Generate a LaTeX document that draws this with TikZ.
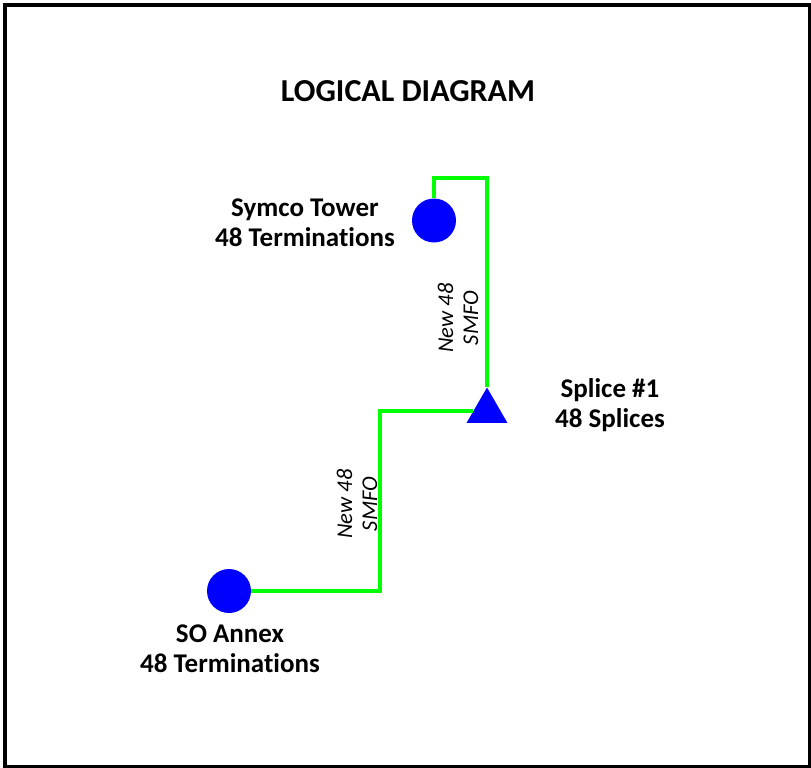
\documentclass[tikz,border=0pt]{standalone}
\usepackage{fontspec}
\setmainfont{Carlito}[Ligatures=NoCommon,RawFeature={-liga;-calt;-clig;-dlig}]
\usetikzlibrary{shapes.geometric}
\definecolor{dotblue}{RGB}{0,0,255}
\definecolor{fibergreen}{RGB}{0,255,0}
\tikzset{
  site/.style={circle,fill=dotblue,minimum size=44pt,inner sep=0pt},
  splicemark/.style={regular polygon,regular polygon sides=3,fill=dotblue,minimum size=47pt,inner sep=0pt},
  fiber/.style={draw=fibergreen,line width=4pt},
  lbl/.style={align=center,font=\fontsize{27}{30}\selectfont\bfseries},
  cable/.style={align=center,rotate=90,font=\fontsize{22.5}{25}\selectfont\itshape},
}
\begin{document}
\begin{tikzpicture}[x=1pt,y=-1pt]
\useasboundingbox (0,0) rectangle (811,768);
\draw[line width=3.5pt] (5,5) rectangle (809.5,766.5);
\node[font=\fontsize{32}{36}\selectfont\bfseries] (title) at (408,91) {LOGICAL DIAGRAM};
\node[site] (tower) at (434,220.5) {};
\node[site] (annex) at (229,591) {};
\node[splicemark] (splice) at (487,411) {};
\coordinate (k1) at (487,178);
\coordinate (k2) at (380,411);
\draw[fiber] (tower) |- (k1) -- (splice);
\draw[fiber] (splice) -- (k2) |- (annex);
\node[lbl] (towerlbl) at (305,223) {Symco Tower\\48 Terminations};
\node[lbl] (splicelbl) at (610,405) {Splice \#1\\48 Splices};
\node[lbl] (annexlbl) at (230,649) {SO Annex\\48 Terminations};
\node[cable] (cab1) at (458,318) {New 48\\SMFO};
\node[cable] (cab2) at (357,504) {New 48\\SMFO};
\end{tikzpicture}
\end{document}
